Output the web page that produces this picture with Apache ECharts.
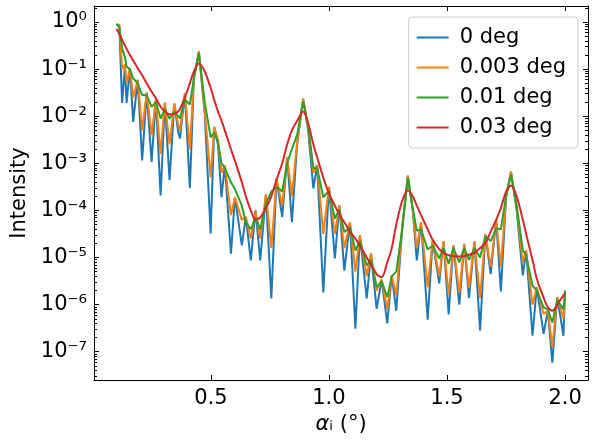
<!DOCTYPE html>
<html>
<head>
<meta charset="utf-8">
<script src="https://cdn.jsdelivr.net/npm/echarts@6/dist/echarts.min.js"></script>
<style>
html,body{margin:0;padding:0;background:#fff;}
#main{width:598px;height:444px;}
</style>
</head>
<body>
<div id="main"></div>
<script>
// incidence angle (deg) at fringe maxima / minima
var alpha = [0.100,0.112,0.124,0.136,0.143,0.157,0.171,0.190,0.209,0.228,0.249,0.267,0.287,0.305,0.325,0.345,0.362,0.369,0.390,0.411,0.428,0.449,0.474,0.499,0.514,0.530,0.545,0.559,0.585,0.602,0.631,0.648,0.669,0.689,0.709,0.733,0.756,0.778,0.802,0.823,0.843,0.865,0.891,0.912,0.934,0.950,0.976,1.000,1.025,1.044,1.065,1.089,1.112,1.131,1.160,1.178,1.202,1.223,1.247,1.266,1.285,1.310,1.334,1.355,1.372,1.390,1.418,1.439,1.467,1.485,1.507,1.527,1.552,1.573,1.593,1.616,1.640,1.662,1.685,1.708,1.728,1.750,1.771,1.795,1.821,1.835,1.862,1.880,1.909,1.927,1.946,1.967,1.993,2.000];

// log10(intensity) for each roughness
var log0deg = [-0.05,-0.08,-1.72,-0.95,-1.72,-0.98,-2.12,-1.23,-2.94,-1.50,-2.97,-1.64,-3.68,-1.71,-3.36,-1.73,-2.35,-2.47,-1.52,-3.53,-1.20,-0.63,-1.95,-4.49,-2.23,-2.60,-3.72,-3.04,-4.92,-3.72,-4.74,-4.14,-5.06,-4.00,-5.06,-3.66,-5.87,-3.33,-4.14,-2.87,-4.25,-2.60,-1.64,-2.30,-3.53,-3.04,-5.74,-3.50,-5.02,-3.89,-5.28,-4.25,-6.51,-4.53,-5.87,-4.91,-6.09,-5.47,-6.40,-5.38,-6.13,-4.40,-3.26,-4.00,-5.06,-4.25,-6.32,-4.64,-5.55,-4.65,-6.21,-4.74,-6.00,-4.71,-5.86,-4.66,-6.55,-4.51,-5.35,-4.21,-5.72,-3.72,-3.18,-4.00,-5.38,-4.85,-6.66,-5.63,-6.62,-6.13,-7.23,-5.84,-6.66,-5.70];
var log0003deg = [-0.05,-0.06,-1.00,-0.90,-1.30,-0.98,-1.60,-1.23,-2.30,-1.50,-2.40,-1.64,-2.80,-1.71,-2.60,-1.73,-2.20,-2.30,-1.52,-2.70,-1.20,-0.62,-1.90,-3.30,-2.23,-2.50,-3.20,-3.04,-4.10,-3.72,-4.20,-4.14,-4.60,-4.00,-4.60,-3.66,-4.80,-3.33,-3.90,-2.87,-3.70,-2.55,-1.62,-2.25,-3.20,-3.04,-4.50,-3.50,-4.50,-3.89,-4.80,-4.25,-5.30,-4.53,-5.40,-4.91,-5.70,-5.47,-6.10,-5.38,-5.80,-4.35,-3.26,-4.00,-4.80,-4.25,-5.63,-4.64,-5.40,-4.65,-5.80,-4.74,-5.75,-4.71,-5.65,-4.66,-5.86,-4.51,-5.20,-4.21,-5.20,-3.70,-3.18,-3.95,-5.10,-4.85,-6.00,-5.63,-6.20,-6.13,-6.90,-5.84,-6.30,-5.72];
var log001deg = [-0.05,-0.10,-0.55,-0.75,-0.95,-1.00,-1.20,-1.30,-1.55,-1.55,-1.80,-1.70,-2.05,-1.85,-2.05,-1.90,-2.00,-2.05,-1.65,-1.75,-1.20,-0.66,-1.70,-2.45,-2.35,-2.55,-3.00,-3.10,-3.40,-3.55,-3.90,-4.25,-4.40,-4.15,-4.40,-3.85,-3.60,-3.50,-3.60,-3.00,-2.70,-2.40,-1.68,-2.20,-3.10,-3.10,-3.72,-3.58,-4.17,-3.98,-4.46,-4.35,-4.85,-4.65,-5.17,-5.05,-5.63,-5.50,-5.84,-5.40,-5.30,-4.40,-3.31,-3.95,-4.43,-4.40,-4.83,-4.75,-5.02,-4.80,-5.13,-4.80,-5.10,-4.80,-5.05,-4.80,-5.00,-4.55,-4.65,-4.38,-4.40,-3.70,-3.24,-3.90,-4.85,-4.95,-5.60,-5.70,-6.06,-6.10,-6.38,-5.90,-6.10,-5.72];
var log003deg = [-0.15,-0.25,-0.38,-0.50,-0.57,-0.70,-0.82,-0.98,-1.13,-1.30,-1.48,-1.62,-1.80,-1.90,-1.96,-1.95,-1.90,-1.85,-1.60,-1.30,-1.05,-0.88,-1.05,-1.40,-1.65,-1.90,-2.10,-2.30,-2.70,-2.95,-3.40,-3.70,-4.00,-4.20,-4.15,-3.95,-3.70,-3.35,-3.00,-2.60,-2.30,-2.10,-1.90,-2.15,-2.60,-2.87,-3.30,-3.64,-3.90,-4.08,-4.25,-4.45,-4.60,-4.75,-5.00,-5.15,-5.35,-5.42,-5.10,-4.80,-4.30,-3.80,-3.57,-3.70,-3.90,-4.10,-4.40,-4.62,-4.82,-4.90,-4.95,-4.97,-4.98,-4.97,-4.94,-4.90,-4.80,-4.70,-4.45,-4.20,-3.95,-3.60,-3.47,-3.70,-4.20,-4.50,-5.05,-5.45,-5.85,-6.05,-6.13,-6.00,-5.80,-5.76];

var seriesNames = ['0 deg', '0.003 deg', '0.01 deg', '0.03 deg'];
var seriesLogs = [log0deg, log0003deg, log001deg, log003deg];
var colors = ['#1f77b4', '#ff7f0e', '#2ca02c', '#d62728'];

var xTicks = [0.5, 1.0, 1.5, 2.0];
var yDecades = [1e-7, 1e-6, 1e-5, 1e-4, 1e-3, 1e-2, 1e-1, 1e0];
var yMinor = [];
[-8,-7,-6,-5,-4,-3,-2,-1,0].forEach(function(e){
    [2,3,4,5,6,7,8,9].forEach(function(m){
        var v = m * Math.pow(10, e);
        if (v > 2.5e-8 && v < 2.2) yMinor.push(v);
    });
});

var sup = {'-':'⁻','0':'⁰','1':'¹','2':'²','3':'³','4':'⁴','5':'⁵','6':'⁶','7':'⁷','8':'⁸','9':'⁹'};
function logLabel(v){
    var r = Math.round(Math.log10(v));
    return '10' + String(r).split('').map(function(c){return sup[c];}).join('');
}

var myChart = echarts.init(document.getElementById('main'));
var font = 'DejaVu Sans';
var fs = 21;
var yMin = Math.pow(10, -7.6), yMax = Math.pow(10, 0.34);

var series = seriesNames.map(function(name, k){
    return {
        name: name,
        type: 'line',
        showSymbol: false,
        animation: false,
        smooth: k === 3 ? 0.3 : false,
        lineStyle: {width: 2, color: colors[k]},
        itemStyle: {color: colors[k]},
        data: alpha.map(function(a, i){ return [a, Math.pow(10, seriesLogs[k][i])]; })
    };
});

function tick(vals, len){
    return {show: true, inside: true, length: len, customValues: vals, lineStyle: {color: '#000', width: 1}};
}
var option = {
    backgroundColor: '#fff',
    textStyle: {fontFamily: font},
    grid: {left: 94, right: 10, top: 6, bottom: 64},
    legend: {
        orient: 'vertical',
        right: 20, top: 17,
        padding: [10, 12, 10, 8],
        itemGap: 9,
        itemWidth: 32, itemHeight: 2,
        icon: 'rect',
        borderColor: '#cccccc', borderWidth: 1, borderRadius: 4,
        backgroundColor: 'rgba(255,255,255,0.8)',
        textStyle: {fontSize: fs, color: '#000', fontFamily: font, padding: [0, 0, 0, 6]},
        data: seriesNames
    },
    xAxis: [{
        type: 'value', min: 0.005, max: 2.097,
        name: '{a|α}{b|ᵢ (°)}', nameLocation: 'middle', nameGap: 30,
        nameTextStyle: {fontSize: fs, color: '#000', rich: {a: {fontSize: fs, fontStyle: 'italic', fontFamily: font}, b: {fontSize: fs, fontFamily: font}}},
        axisLine: {lineStyle: {color: '#000'}},
        axisTick: tick(xTicks, 5),
        axisLabel: {fontSize: fs, color: '#000', margin: 8, customValues: xTicks, formatter: function(v){ return v.toFixed(1); }},
        splitLine: {show: false}
    }, {
        type: 'value', position: 'top', min: 0.005, max: 2.097,
        axisLine: {lineStyle: {color: '#000'}},
        axisTick: tick(xTicks, 5), axisLabel: {show: false}, splitLine: {show: false}
    }],
    yAxis: [{
        type: 'log', min: yMin, max: yMax,
        name: 'Intensity', nameLocation: 'middle', nameGap: 64,
        nameTextStyle: {fontSize: fs, color: '#000'},
        axisLine: {show: true, lineStyle: {color: '#000'}},
        axisTick: tick(yDecades, 5),
        axisLabel: {fontSize: fs, color: '#000', margin: 7, customValues: yDecades, formatter: logLabel},
        splitLine: {show: false}
    }, {
        type: 'log', position: 'right', min: yMin, max: yMax,
        axisLine: {show: true, lineStyle: {color: '#000'}},
        axisTick: tick(yDecades, 5), axisLabel: {show: false}, splitLine: {show: false}
    }, {
        type: 'log', position: 'left', min: yMin, max: yMax,
        axisLine: {show: false},
        axisTick: tick(yMinor, 3), axisLabel: {show: false}, splitLine: {show: false}
    }, {
        type: 'log', position: 'right', min: yMin, max: yMax,
        axisLine: {show: false},
        axisTick: tick(yMinor, 3), axisLabel: {show: false}, splitLine: {show: false}
    }],
    series: series
};
myChart.setOption(option);
</script>
</body>
</html>
